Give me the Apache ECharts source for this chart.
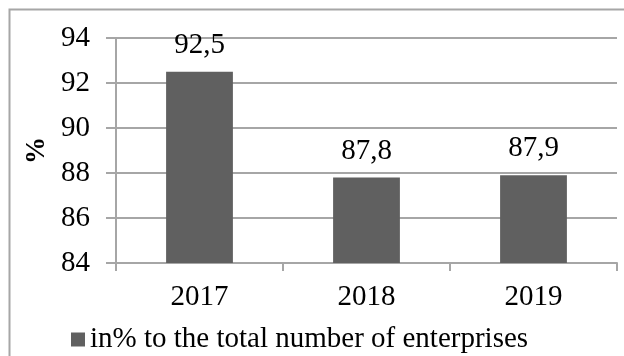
<!DOCTYPE html>
<html>
<head>
<meta charset="utf-8">
<script src="https://cdn.jsdelivr.net/npm/echarts@6/dist/echarts.min.js"></script>
<style>
  html, body { margin: 0; padding: 0; background: #ffffff; }
  #chart { width: 624px; height: 356px; }
</style>
</head>
<body>
<div id="chart"></div>
<script>
// Share of enterprises by year
const years = ['2017', '2018', '2019'];
const shareValues = [92.5, 87.8, 87.9];
const seriesName = 'in% to the total number of enterprises';
const yMin = 84, yMax = 94, yStep = 2;

const serif = '"Liberation Serif", "Times New Roman", serif';
const fmt = v => String(v).replace('.', ',');

const chart = echarts.init(document.getElementById('chart'), null, { renderer: 'canvas' });
chart.setOption({
  animation: false,
  backgroundColor: '#ffffff',
  textStyle: { fontFamily: serif },
  graphic: [{
    type: 'rect',
    shape: { x: 9.5, y: 9.5, width: 700, height: 500 },
    style: { fill: 'none', stroke: '#a6a6a6', lineWidth: 2 },
    silent: true
  }],
  grid: { left: 116, top: 38, right: 7, bottom: 93 },
  legend: {
    left: 66, top: 320,
    itemWidth: 14, itemHeight: 14, itemGap: 8,
    icon: 'rect',
    textStyle: { fontFamily: serif, fontSize: 29, color: '#000000' },
    data: [seriesName]
  },
  xAxis: {
    type: 'category',
    data: years,
    axisLine: { lineStyle: { color: '#a6a6a6', width: 2 } },
    axisTick: { show: true, length: 8, lineStyle: { color: '#a6a6a6', width: 2 } },
    axisLabel: { fontFamily: serif, fontSize: 29, color: '#000000', margin: 20 }
  },
  yAxis: {
    type: 'value',
    min: yMin, max: yMax, interval: yStep,
    name: '%',
    nameLocation: 'middle',
    nameGap: 64,
    nameTextStyle: { fontFamily: serif, fontSize: 27, fontWeight: 'bold', color: '#000000' },
    axisLine: { show: true, lineStyle: { color: '#a6a6a6', width: 2 } },
    axisTick: { show: true, length: 10, lineStyle: { color: '#a6a6a6', width: 2 } },
    axisLabel: { fontFamily: serif, fontSize: 29, color: '#000000', margin: 26 },
    splitLine: { show: true, lineStyle: { color: '#a6a6a6', width: 2 } }
  },
  series: [{
    name: seriesName,
    type: 'bar',
    data: shareValues,
    barWidth: '40%',
    itemStyle: { color: '#606060' },
    label: {
      show: true, position: 'top', distance: 12,
      fontFamily: serif, fontSize: 29, color: '#000000',
      formatter: p => fmt(p.value)
    }
  }]
});
</script>
</body>
</html>
